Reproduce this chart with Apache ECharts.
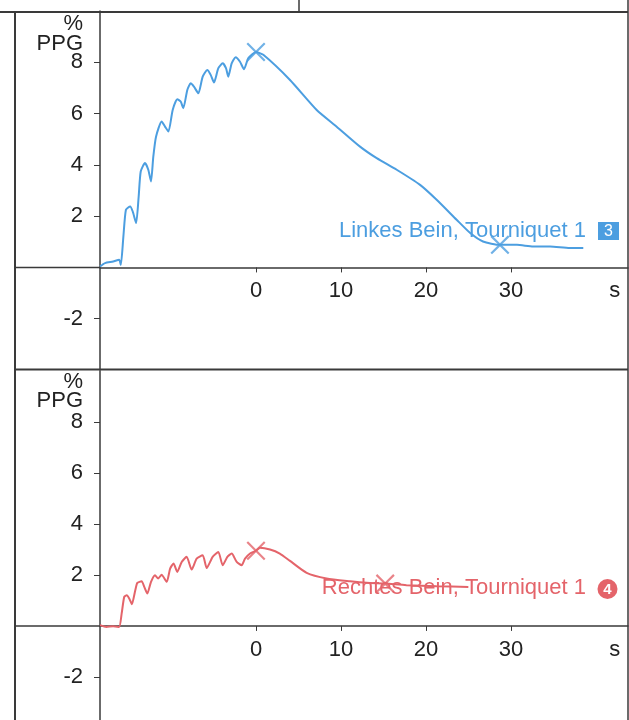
<!DOCTYPE html>
<html>
<head>
<meta charset="utf-8">
<script src="https://cdn.jsdelivr.net/npm/echarts@6/dist/echarts.min.js"></script>
<style>
  html, body { margin: 0; padding: 0; background: #fff; }
  #chart { width: 629px; height: 720px; }
</style>
</head>
<body>
<div id="chart"></div>
<script>
// Zeit in s, PPG in %
const tLeft = [-18.35, -17.76, -16.8, -16.1, -15.9, -15.6, -15.3, -14.8, -14.5, -14.1, -13.8, -13.56, -13.06, -12.67, -12.35, -12.08, -11.76, -11.1, -10.7, -10.3, -9.8, -9.26, -8.86, -8.55, -8.08, -7.68, -7.3, -6.78, -6.27, -5.73, -5.33, -4.94, -4.43, -3.92, -3.53, -3.26, -2.86, -2.39, -1.88, -1.41, -0.9, 0, 0.86, 4.0, 7.14, 9.49, 12.24, 14.2, 16.55, 19.3, 21.25, 23.6, 25.2, 26.7, 28.7, 30.7, 32.6, 34.6, 36.9, 38.5]
const ppgLeft = [0.04, 0.17, 0.23, 0.3, 0.1, 1.2, 2.25, 2.38, 2.18, 1.73, 2.77, 3.74, 4.07, 3.81, 3.35, 4.32, 5.1, 5.69, 5.49, 5.3, 6.14, 6.56, 6.47, 6.21, 6.92, 7.18, 7.05, 6.79, 7.44, 7.7, 7.51, 7.21, 7.77, 7.96, 7.77, 7.44, 7.96, 8.2, 8.02, 7.73, 8.16, 8.4, 8.29, 7.31, 6.14, 5.49, 4.71, 4.26, 3.81, 3.22, 2.64, 1.86, 1.34, 1.01, 0.88, 0.88, 0.82, 0.82, 0.76, 0.76]
const tRight = [-18.35, -17.6, -16.8, -16.1, -15.8, -15.5, -15.2, -14.9, -14.6, -14.2, -13.96, -13.45, -13.14, -12.78, -12.35, -11.88, -11.5, -11.1, -10.5, -10.1, -9.7, -9.26, -8.74, -8.16, -7.57, -6.98, -6.27, -5.8, -5.1, -4.43, -3.92, -3.37, -2.86, -2.27, -1.69, -1.29, -0.7, 0, 0.47, 1.65, 2.8, 4.0, 5.96, 8.3, 11.06, 13.0, 15.2, 17.7, 21.25, 24.98]
const ppgRight = [0.03, -0.04, -0.01, -0.04, 0.49, 1.14, 1.2, 1.07, 0.85, 1.4, 1.69, 1.75, 1.53, 1.27, 1.73, 1.99, 1.86, 2.01, 1.73, 2.25, 2.45, 2.12, 2.51, 2.71, 2.21, 2.64, 2.77, 2.27, 2.71, 2.9, 2.38, 2.71, 2.84, 2.51, 2.38, 2.64, 2.84, 2.95, 3.07, 3.0, 2.84, 2.55, 2.08, 1.86, 1.75, 1.69, 1.66, 1.6, 1.56, 1.53]

// Kreuze (Messpunkte)
const markLeftT = [0, 28.7]
const markLeftV = [8.4, 0.88]
const markRightT = [0, 15.2]
const markRightV = [2.95, 1.66]

const xTicks = [0, 10, 20, 30]
const xUnitPos = 42.2 // Position der Einheit "s"
const yTicks = [-2, 2, 4, 6, 8]

const labelLeft = 'Linkes Bein, Tourniquet 1'
const labelRight = 'Rechtes Bein, Tourniquet 1'

const BLUE = '#4c9ee0'
const RED = '#e4646a'
const INK = '#222'
const FRAME = '#3a3a3a'
const FONT = '"Liberation Sans", Arial, sans-serif'

const crossPath = 'path://M0,0.8L0.8,0L5,4.2L9.2,0L10,0.8L5.8,5L10,9.2L9.2,10L5,5.8L0.8,10L0,9.2L4.2,5Z'

const Y_MAX = 10
const yMins = [-4, -3.69]
const grids = [
  { left: 100, right: 1, top: 11, height: 359 },
  { left: 100, right: 1, top: 371, height: 349 },
]

const pairs = (xs, ys) => xs.map((x, i) => [x, ys[i]])

// x-Achse sitzt auf der Nulllinie: Abstand von der Gitterunterkante
function zeroOffset(i) {
  const g = grids[i]
  return -g.height * (0 - yMins[i]) / (Y_MAX - yMins[i])
}

function xAxisFor(gridIndex) {
  return {
    type: 'value',
    gridIndex,
    position: 'bottom',
    offset: zeroOffset(gridIndex),
    min: -18.35,
    max: 43.76,
    axisLine: { onZero: false, lineStyle: { color: FRAME, width: 1.5 } },
    axisTick: { customValues: xTicks, length: 5, lineStyle: { color: FRAME } },
    axisLabel: {
      customValues: xTicks.concat([xUnitPos]),
      formatter: (v) => (v > 40 ? 's' : String(v)),
      margin: 13,
      fontSize: 22,
      color: INK,
      fontFamily: FONT,
    },
    splitLine: { show: false },
  }
}

function yAxisFor(gridIndex) {
  return {
    type: 'value',
    gridIndex,
    min: yMins[gridIndex],
    max: Y_MAX,
    axisLine: { show: true, onZero: false, lineStyle: { color: FRAME, width: 1.5 } },
    axisTick: { show: true, customValues: yTicks, length: 6, lineStyle: { color: FRAME } },
    axisLabel: {
      customValues: yTicks,
      margin: 17,
      fontSize: 22,
      color: INK,
      fontFamily: FONT,
    },
    splitLine: { show: false },
  }
}

const chart = echarts.init(document.getElementById('chart'))

const option = {
  animation: false,
  backgroundColor: '#fff',
  grid: grids,
  xAxis: [xAxisFor(0), xAxisFor(1)],
  yAxis: [yAxisFor(0), yAxisFor(1)],
  series: [
    {
      type: 'line',
      xAxisIndex: 0,
      yAxisIndex: 0,
      data: pairs(tLeft, ppgLeft),
      symbol: 'none',
      smooth: 0.2,
      lineStyle: { color: BLUE, width: 2 },
    },
    {
      type: 'scatter',
      xAxisIndex: 0,
      yAxisIndex: 0,
      data: pairs(markLeftT, markLeftV),
      symbol: crossPath,
      symbolSize: 19,
      itemStyle: { color: BLUE },
    },
    {
      type: 'line',
      xAxisIndex: 1,
      yAxisIndex: 1,
      data: pairs(tRight, ppgRight),
      symbol: 'none',
      smooth: 0.2,
      lineStyle: { color: RED, width: 2 },
    },
    {
      type: 'scatter',
      xAxisIndex: 1,
      yAxisIndex: 1,
      data: pairs(markRightT, markRightV),
      symbol: crossPath,
      symbolSize: 19,
      itemStyle: { color: RED },
    },
  ],
}

chart.setOption(option)

// Rahmen, Nulllinien-Verlaengerung, Beschriftungen
const y0Top = chart.convertToPixel({ gridIndex: 0 }, [0, 0])[1]
const y0Bot = chart.convertToPixel({ gridIndex: 1 }, [0, 0])[1]
const line = (x1, y1, x2, y2, w) => ({
  type: 'line',
  shape: { x1, y1, x2, y2 },
  style: { stroke: FRAME, lineWidth: w || 1.5 },
  silent: true,
})
const text = (x, y, str, opts) => ({
  type: 'text',
  x, y,
  style: Object.assign({ text: str, font: '22px ' + FONT, fill: INK, align: 'right', verticalAlign: 'middle' }, opts || {}),
  silent: true,
})

chart.setOption({
  graphic: [
    line(0, 12, 628, 12, 2),
    line(299, 0, 299, 12, 1.5),
    line(628, 0, 628, 720, 1.5),
    line(15, 12, 15, 720, 2),
    line(15, 369.5, 628, 369.5, 2),
    line(15, y0Top, 100, y0Top, 1.5),
    line(15, y0Bot, 100, y0Bot, 1.5),

    text(83, 24, '%'),
    text(83, 44, 'PPG'),
    text(83, 382, '%'),
    text(83, 401, 'PPG'),

    text(586, 231, labelLeft, { fill: BLUE }),
    { type: 'rect', shape: { x: 598, y: 222, width: 21, height: 18 }, style: { fill: BLUE }, silent: true },
    text(608.5, 231.5, '3', { fill: '#fff', align: 'center', font: '16px ' + FONT }),

    text(586, 588, labelRight, { fill: RED }),
    { type: 'circle', shape: { cx: 607.5, cy: 589, r: 10 }, style: { fill: RED }, silent: true },
    text(607.5, 589.5, '4', { fill: '#fff', align: 'center', font: 'bold 15px ' + FONT }),
  ],
})
</script>
</body>
</html>
